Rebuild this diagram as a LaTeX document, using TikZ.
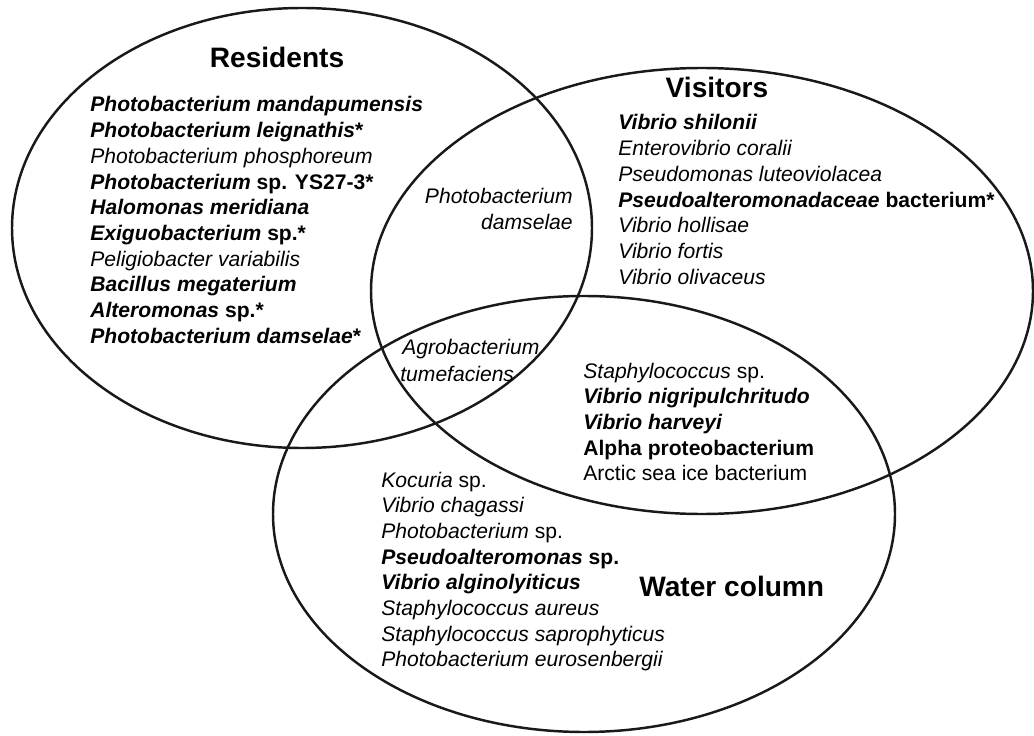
\documentclass[tikz,border=0pt]{standalone}
\usepackage{fontspec}
\setmainfont{Liberation Sans}
\newcommand{\bital}[1]{\textbf{\textit{#1}}}
\tikzset{
  venn/.style={line width=1.4pt, black!90},
  settitle/.style={font=\fontsize{16}{19}\selectfont\bfseries, inner sep=0pt},
  item/.style={font=\fontsize{12}{14.6}\selectfont, inner sep=0pt, anchor=base west},
}
\begin{document}
\begin{tikzpicture}[x=0.02cm,y=-0.02cm,line cap=round,line join=round]
  \useasboundingbox (0,0) rectangle (1034,736);
  \def\gap{25.7}

  % the three sets
  \draw[venn] (302,228) ellipse [x radius=290, y radius=220];
  \draw[venn] (702,291) ellipse [x radius=331, y radius=223];
  \draw[venn] (584,514) ellipse [x radius=311, y radius=218];

  % set names
  \node[settitle, anchor=base] (resTitle) at (277,68) {Residents};
  \node[settitle, anchor=base] (visTitle) at (717,98) {Visitors};
  \node[settitle, anchor=base west] (watTitle) at (639,596) {Water column};

  % residents only
  \foreach \txt [count=\i from 0] in {
      {\bital{Photobacterium mandapumensis}},
      {\bital{Photobacterium leignathis}\textbf{*}},
      {\textit{Photobacterium phosphoreum}},
      {\bital{Photobacterium} \textbf{sp. YS27-3*}},
      {\bital{Halomonas meridiana}},
      {\bital{Exiguobacterium} \textbf{sp.*}},
      {\textit{Peligiobacter variabilis}},
      {\bital{Bacillus megaterium}},
      {\bital{Alteromonas} \textbf{sp.*}},
      {\bital{Photobacterium damselae}\textbf{*}}}
    \node[item] (res\i) at (90,112+\gap*\i) {\txt};

  % visitors only
  \foreach \txt [count=\i from 0] in {
      {\bital{Vibrio shilonii}},
      {\textit{Enterovibrio coralii}},
      {\textit{Pseudomonas luteoviolacea}},
      {\bital{Pseudoalteromonadaceae} \textbf{bacterium*}},
      {\textit{Vibrio hollisae}},
      {\textit{Vibrio fortis}},
      {\textit{Vibrio olivaceus}}}
    \node[item] (vis\i) at (618,130+\gap*\i) {\txt};

  % residents and visitors
  \node[item, anchor=base east] (resvis0) at (573,204) {\textit{Photobacterium}};
  \node[item, anchor=base east] (resvis1) at (573,230) {\textit{damselae}};

  % all three
  \node[item] (all0) at (402,355) {\textit{Agrobacterium}};
  \node[item] (all1) at (400,381) {\textit{tumefaciens}};

  % visitors and water column
  \foreach \txt [count=\i from 0] in {
      {\textit{Staphylococcus} sp.},
      {\bital{Vibrio nigripulchritudo}},
      {\bital{Vibrio harveyi}},
      {\textbf{Alpha proteobacterium}},
      {Arctic sea ice bacterium}}
    \node[item] (viswat\i) at (583,378+\gap*\i) {\txt};

  % water column only
  \foreach \txt [count=\i from 0] in {
      {\textit{Kocuria} sp.},
      {\textit{Vibrio chagassi}},
      {\textit{Photobacterium} sp.},
      {\bital{Pseudoalteromonas} \textbf{sp.}},
      {\bital{Vibrio alginolyiticus}},
      {\textit{Staphylococcus aureus}},
      {\textit{Staphylococcus saprophyticus}},
      {\textit{Photobacterium eurosenbergii}}}
    \node[item] (wat\i) at (381,487+\gap*\i) {\txt};
\end{tikzpicture}
\end{document}
